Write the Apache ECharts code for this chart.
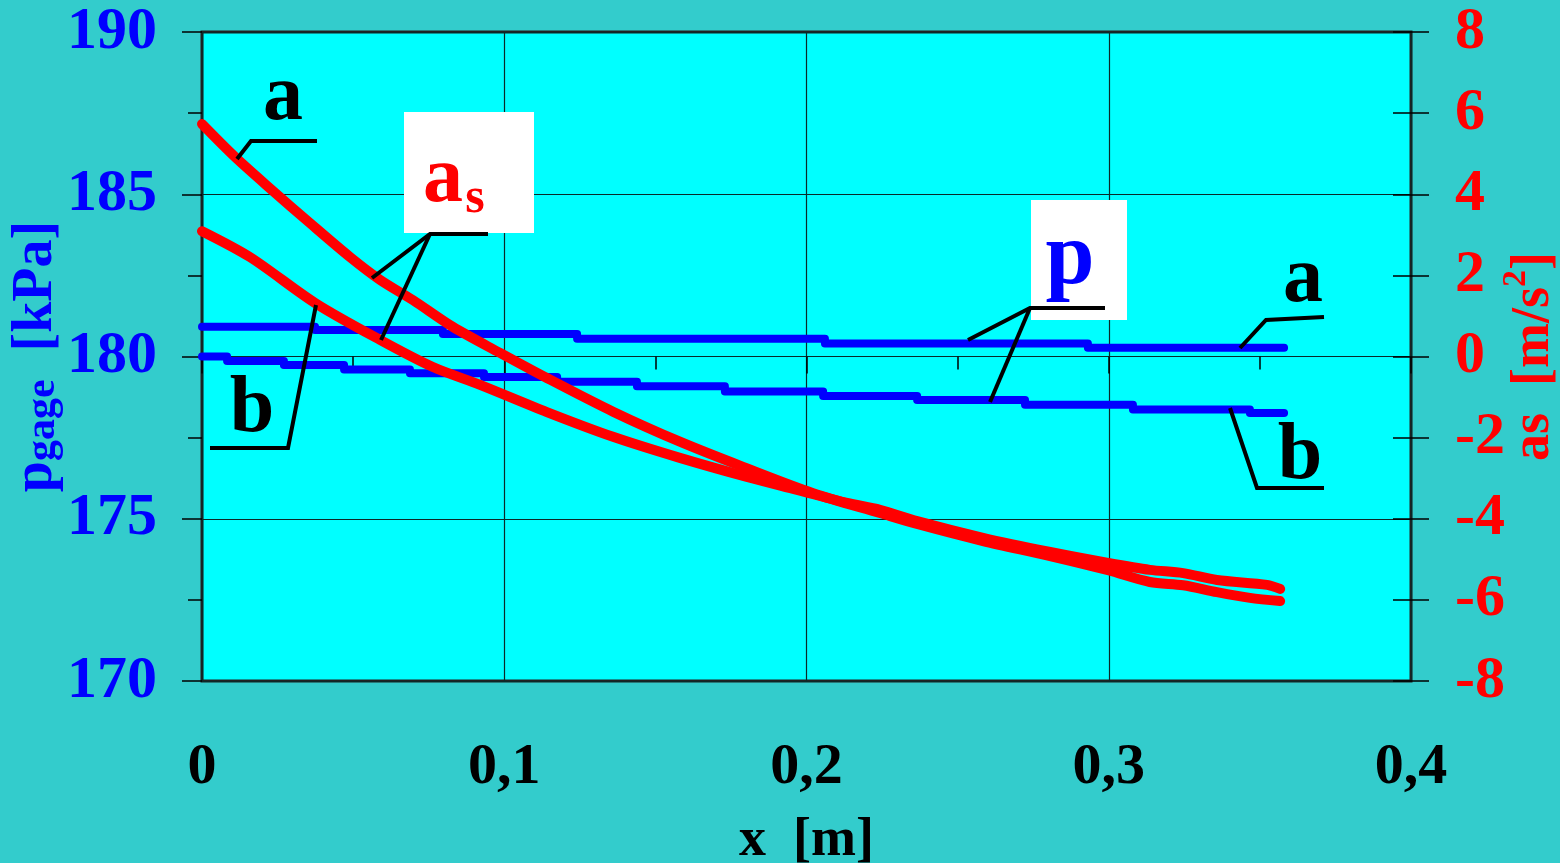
<!DOCTYPE html>
<html>
<head>
<meta charset="utf-8">
<script src="https://cdn.jsdelivr.net/npm/echarts@6/dist/echarts.min.js"></script>
<style>
html,body{margin:0;padding:0;background:#33CCCC;}
#chart{width:1560px;height:863px;}
</style>
</head>
<body>
<div id="chart"></div>
<script>
// ---- data ----
const xTickValues = [0, 0.1, 0.2, 0.3, 0.4];
const leftTicks = [170, 175, 180, 185, 190];
const rightTicks = [-8, -6, -4, -2, 0, 2, 4, 6, 8];

// gauge pressure, curve a (kPa), step line
const pA_x = [0, 0.0374, 0.0797, 0.1241, 0.2061, 0.2931, 0.358];
const pA_y = [180.92, 180.82, 180.69, 180.55, 180.40, 180.27, 180.27];
// gauge pressure, curve b (kPa), step line
const pB_x = [0, 0.0083, 0.0271, 0.0470, 0.0688, 0.0933, 0.1175, 0.1439, 0.1730, 0.2055, 0.2366, 0.2723, 0.3080, 0.3467, 0.358];
const pB_y = [180.00, 179.86, 179.74, 179.60, 179.48, 179.37, 179.22, 179.08, 178.92, 178.78, 178.66, 178.51, 178.37, 178.26, 178.26];

// acceleration a_s, curve a (m/s^2)
const asA_x = [0, 0.0109, 0.0232, 0.0357, 0.0490, 0.0589, 0.0698, 0.0830, 0.0986, 0.1141, 0.1360, 0.1581, 0.1790, 0.2022, 0.2243, 0.2366, 0.2584, 0.2806, 0.2998, 0.3136, 0.3246, 0.3358, 0.3467, 0.3567];
const asA_y = [5.73, 4.92, 4.10, 3.29, 2.45, 1.89, 1.39, 0.73, 0.09, -0.53, -1.36, -2.10, -2.72, -3.37, -3.86, -4.13, -4.55, -4.92, -5.27, -5.56, -5.64, -5.81, -5.95, -6.03];
// acceleration a_s, curve b (m/s^2)
const asB_x = [0, 0.0159, 0.0374, 0.0589, 0.0764, 0.0920, 0.1141, 0.1360, 0.1581, 0.1803, 0.1969, 0.2134, 0.2243, 0.2366, 0.2584, 0.2806, 0.2998, 0.3136, 0.3246, 0.3358, 0.3524, 0.3567];
const asB_y = [3.09, 2.45, 1.32, 0.41, -0.26, -0.70, -1.37, -1.98, -2.50, -2.97, -3.29, -3.61, -3.78, -4.06, -4.47, -4.82, -5.09, -5.26, -5.34, -5.51, -5.63, -5.73];

const zip = (xs, ys) => xs.map((x, i) => [x, ys[i]]);

const FONT = 'Liberation Serif';
const chart = echarts.init(document.getElementById('chart'), null, {renderer: 'canvas'});

const blue = '#0000FF', red = '#FF0000';

const option = {
  backgroundColor: '#33CCCC',
  animation: false,
  grid: {
    left: 202, right: 149, top: 32, bottom: 182,
    containLabel: false, outerBoundsMode: 'none',
    show: true, backgroundColor: '#00FFFF', borderColor: '#222222', borderWidth: 3
  },
  xAxis: {
    type: 'value', min: 0, max: 0.4, interval: 0.1,
    axisLine: {show: false},
    axisTick: {show: true, length: 17, lineStyle: {color: '#000', width: 1.5}},
    minorTick: {show: true, splitNumber: 2, length: 13, lineStyle: {color: '#000', width: 1.5}},
    splitLine: {show: true, lineStyle: {color: '#0a2a2a', width: 1.2}},
    axisLabel: {
      margin: 58, color: '#000', fontFamily: FONT, fontWeight: 'bold', fontSize: 58,
      formatter: v => String(Math.round(v * 10) / 10).replace('.', ',')
    },
    name: 'x  [m]', nameLocation: 'middle', nameGap: 133, nameMoveOverlap: false,
    nameTextStyle: {color: '#000', fontFamily: FONT, fontWeight: 'bold', fontSize: 54}
  },
  yAxis: [
    {
      type: 'value', position: 'left', min: leftTicks[0], max: leftTicks[leftTicks.length - 1], interval: 5,
      axisLine: {show: false},
      axisTick: {show: true, length: 20, lineStyle: {color: '#000', width: 1.5}},
      minorTick: {show: true, splitNumber: 2, length: 14, lineStyle: {color: '#000', width: 1.5}},
      splitLine: {show: true, lineStyle: {color: '#0a2a2a', width: 1.2}},
      axisLabel: {margin: 45, color: blue, fontFamily: FONT, fontWeight: 'bold', fontSize: 60},
      name: '{p|p}{g|gage}{u|  [kPa]}', nameLocation: 'middle', nameGap: 137, nameRotate: 90, nameMoveOverlap: false,
      nameTextStyle: {
        color: blue, fontFamily: FONT, fontWeight: 'bold',
        rich: {
          p: {fontSize: 56, color: blue, fontFamily: FONT, fontWeight: 'bold'},
          g: {fontSize: 42, color: blue, fontFamily: FONT, fontWeight: 'bold', padding: [12, 0, 0, 0]},
          u: {fontSize: 56, color: blue, fontFamily: FONT, fontWeight: 'bold'}
        }
      }
    },
    {
      type: 'value', position: 'right', min: rightTicks[0], max: rightTicks[rightTicks.length - 1], interval: 2,
      axisLine: {show: false},
      axisTick: {show: true, length: 18, lineStyle: {color: '#000', width: 1.5}},
      splitLine: {show: false},
      axisLabel: {margin: 44, color: red, fontFamily: FONT, fontWeight: 'bold', fontSize: 60},
      name: '{a|as  [m/s}{s|2}{a|]}', nameLocation: 'middle', nameGap: 88, nameRotate: 90, nameMoveOverlap: false,
      nameTextStyle: {
        color: red, fontFamily: FONT, fontWeight: 'bold',
        rich: {
          a: {fontSize: 54, color: red, fontFamily: FONT, fontWeight: 'bold'},
          s: {fontSize: 34, color: red, fontFamily: FONT, fontWeight: 'bold', padding: [0, 0, 36, 0]}
        }
      }
    },
    {
      type: 'value', position: 'right', min: rightTicks[0], max: rightTicks[rightTicks.length - 1], interval: 2,
      axisLine: {show: false},
      axisTick: {show: true, inside: true, length: 18, lineStyle: {color: '#000', width: 1.5}},
      splitLine: {show: false},
      axisLabel: {show: false}
    }
  ],
  series: [
    {
      name: 'p a', type: 'line', xAxisIndex: 0, yAxisIndex: 0, step: 'end', showSymbol: false,
      data: zip(pA_x, pA_y),
      lineStyle: {color: blue, width: 8, cap: 'round', join: 'round'}
    },
    {
      name: 'p b', type: 'line', xAxisIndex: 0, yAxisIndex: 0, step: 'end', showSymbol: false,
      data: zip(pB_x, pB_y),
      lineStyle: {color: blue, width: 8, cap: 'round', join: 'round'}
    },
    {
      name: 'as a', type: 'line', xAxisIndex: 0, yAxisIndex: 1, showSymbol: false, smooth: 0.3,
      data: zip(asA_x, asA_y),
      lineStyle: {color: red, width: 10, cap: 'round', join: 'round'}
    },
    {
      name: 'as b', type: 'line', xAxisIndex: 0, yAxisIndex: 1, showSymbol: false, smooth: 0.3,
      data: zip(asB_x, asB_y),
      lineStyle: {color: red, width: 10, cap: 'round', join: 'round'}
    }
  ],
  graphic: [
    {type: 'rect', shape: {x: 404, y: 112, width: 130, height: 121}, style: {fill: '#FFFFFF'}, z: 50},
    {type: 'rect', shape: {x: 1031, y: 200, width: 96, height: 120}, style: {fill: '#FFFFFF'}, z: 50},
    {type: 'polyline', shape: {points: [[237, 159], [251, 141], [317, 141]]}, style: {stroke: '#000', lineWidth: 4, fill: null}, z: 60},
    {type: 'polyline', shape: {points: [[372, 278], [430, 234], [488, 234]]}, style: {stroke: '#000', lineWidth: 4, fill: null}, z: 60},
    {type: 'polyline', shape: {points: [[381, 340], [430, 234]]}, style: {stroke: '#000', lineWidth: 4, fill: null}, z: 60},
    {type: 'polyline', shape: {points: [[210, 448], [288, 448], [316, 305]]}, style: {stroke: '#000', lineWidth: 4, fill: null}, z: 60},
    {type: 'polyline', shape: {points: [[968, 340], [1030, 308], [1105, 308]]}, style: {stroke: '#000', lineWidth: 4, fill: null}, z: 60},
    {type: 'polyline', shape: {points: [[990, 402], [1030, 308]]}, style: {stroke: '#000', lineWidth: 4, fill: null}, z: 60},
    {type: 'polyline', shape: {points: [[1240, 348], [1266, 320], [1324, 317]]}, style: {stroke: '#000', lineWidth: 4, fill: null}, z: 60},
    {type: 'polyline', shape: {points: [[1230, 408], [1257, 488], [1324, 488]]}, style: {stroke: '#000', lineWidth: 4, fill: null}, z: 60},
    {type: 'text', x: 283, y: 98, z: 70, style: {text: 'a', fill: '#000', font: 'bold 80px "Liberation Serif"', align: 'center', verticalAlign: 'middle'}},
    {type: 'text', x: 252, y: 410, z: 70, style: {text: 'b', fill: '#000', font: 'bold 80px "Liberation Serif"', align: 'center', verticalAlign: 'middle'}},
    {type: 'text', x: 1303, y: 280, z: 70, style: {text: 'a', fill: '#000', font: 'bold 80px "Liberation Serif"', align: 'center', verticalAlign: 'middle'}},
    {type: 'text', x: 1300, y: 457, z: 70, style: {text: 'b', fill: '#000', font: 'bold 80px "Liberation Serif"', align: 'center', verticalAlign: 'middle'}},
    {type: 'text', x: 1070, y: 260, z: 70, style: {text: 'p', fill: blue, font: 'bold 88px "Liberation Serif"', align: 'center', verticalAlign: 'middle'}},
    {type: 'text', x: 443, y: 180, z: 70, style: {text: 'a', fill: red, font: 'bold 80px "Liberation Serif"', align: 'center', verticalAlign: 'middle'}},
    {type: 'text', x: 475, y: 199, z: 70, style: {text: 's', fill: red, font: 'bold 50px "Liberation Serif"', align: 'center', verticalAlign: 'middle'}}
  ],
  textStyle: {fontFamily: FONT}
};
chart.setOption(option);
</script>
</body>
</html>
